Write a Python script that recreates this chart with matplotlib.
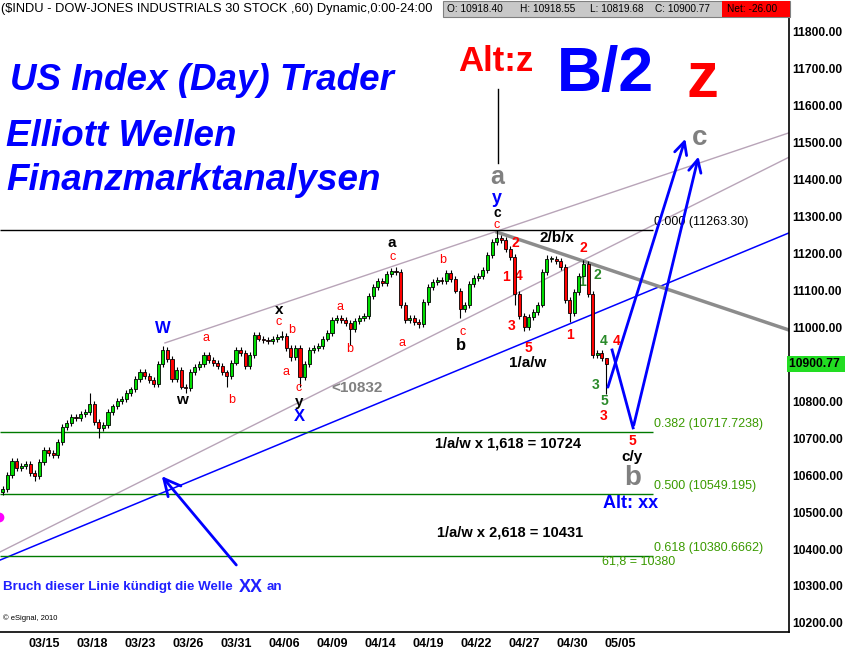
import numpy as np
import matplotlib.pyplot as plt
from matplotlib.patches import Rectangle

ARIAL = ['Liberation Sans', 'DejaVu Sans']
plt.rcParams['font.family'] = ARIAL

# $INDU 60 min, 7 bars per session, bar 0 = open of 03/15; drawn as 2-hour candles
first_bar = -18
bar_step = 2
first_open = 10555
closes = [10562, 10600, 10638, 10620, 10624, 10630, 10605, 10598, 10635, 10668,
          10660, 10655, 10690, 10730, 10742, 10758, 10755, 10765, 10772, 10792,
          10745, 10728, 10735, 10770, 10786, 10800, 10806, 10822, 10832, 10860,
          10880, 10868, 10858, 10848, 10900, 10938, 10915, 10860, 10885, 10840,
          10835, 10880, 10893, 10900, 10925, 10912, 10903, 10895, 10878, 10868,
          10905, 10940, 10932, 10895, 10925, 10980, 10970, 10966, 10962, 10968,
          10975, 10978, 10945, 10920, 10945, 10866, 10900, 10940, 10945, 10950,
          10970, 10985, 11020, 11025, 11020, 11012, 10995, 11018, 11025, 11030,
          11085, 11110, 11125, 11120, 11145, 11152, 11150, 11060, 11020, 11025,
          11015, 11008, 11070, 11110, 11122, 11128, 11126, 11148, 11130, 11100,
          11050, 11060, 11118, 11135, 11140, 11155, 11196, 11231, 11242, 11236,
          11212, 11190, 11090, 11030, 11000, 11028, 11042, 11062, 11150, 11185,
          11185, 11180, 11163, 11075, 11040, 11095, 11140, 11172, 11090, 10925,
          10930, 10918.40, 10900.77]
spike_high = {19: 10822, 35: 10950, 61: 10990, 86: 11165, 108: 11263.30,
              119: 11195, 127: 11182, 132: 10918.55}
spike_low = {7: 10585, 21: 10700, 40: 10822, 49: 10840, 63: 10908, 65: 10840,
             76: 10952, 91: 10998, 100: 11025, 112: 11060, 114: 10990, 124: 11015,
             132: 10819.68}

date_labels = ['03/15', '03/18', '03/23', '03/26', '03/31', '04/06', '04/09',
               '04/14', '04/19', '04/22', '04/27', '04/30', '05/05']
bars_between_labels = 21

price_ticks = list(range(10200, 11900, 100))
last_price = 10900.77

fib_prices = [11263.30, 10717.7238, 10549.195, 10380.6662]
fib_texts = ['0.000 (11263.30)', '0.382 (10717.7238)', '0.500 (10549.195)',
             '0.618 (10380.6662)']
fib_colors = ['black', '#3a9a00', '#3a9a00', '#3a9a00']

# trendlines (bar, price) pairs
blue_trend = ([-19.25, 325.9], [10370, 11256])
upper_chan = ([52.9, 325.9], [10958, 11527])
lower_chan = ([-19.25, 325.9], [10392, 11461])
down_line = ([198.2, 325.9], [11258, 10993])

# wave labels: text, bar, price, colour, size, weight
labels = [
    ('W', 52.1, 10998, 'blue', 12, 'bold'),
    ('a', 70.9, 10971, 'red', 9, 'normal'),
    ('w', 60.4, 10803, 'black', 11, 'bold'),
    ('b', 82.3, 10803, 'red', 9, 'normal'),
    ('x', 102.8, 11047, 'black', 11, 'bold'),
    ('c', 102.8, 11015, 'red', 9, 'normal'),
    ('b', 108.5, 10993, 'red', 9, 'normal'),
    ('a', 105.9, 10879, 'red', 9, 'normal'),
    ('c', 111.6, 10836, 'red', 9, 'normal'),
    ('y', 111.6, 10798, 'black', 11, 'bold'),
    ('X', 111.6, 10760, 'blue', 12, 'bold'),
    ('<10832', 136.9, 10836, 'gray', 11, 'bold'),
    ('a', 129.5, 11055, 'red', 9, 'normal'),
    ('b', 133.9, 10942, 'red', 9, 'normal'),
    ('a', 152.3, 11229, 'black', 11, 'bold'),
    ('c', 152.7, 11191, 'red', 9, 'normal'),
    ('a', 156.6, 10958, 'red', 9, 'normal'),
    ('b', 174.6, 11183, 'red', 9, 'normal'),
    ('c', 183.3, 10988, 'red', 9, 'normal'),
    ('b', 182.4, 10952, 'black', 12, 'bold'),
    ('c', 197.8, 11277, 'red', 9, 'normal'),
    ('c', 198.2, 11310, 'black', 10, 'bold'),
    ('y', 198.2, 11348, 'blue', 13, 'bold'),
    ('a', 198.2, 11407, 'gray', 18, 'bold'),
    ('2', 206.1, 11229, 'red', 10, 'bold'),
    ('1', 202.1, 11137, 'red', 10, 'bold'),
    ('4', 207.8, 11139, 'red', 10, 'bold'),
    ('3', 204.75, 11004, 'red', 10, 'bold'),
    ('5', 211.75, 10944, 'red', 10, 'bold'),
    ('1/a/w', 211.75, 10904, 'black', 11, 'bold'),
    ('2/b/x', 224.4, 11242, 'black', 11, 'bold'),
    ('2', 235.8, 11215, 'red', 10, 'bold'),
    ('1', 235.4, 11123, '#2a8a2a', 10, 'bold'),
    ('2', 241.9, 11142, '#2a8a2a', 10, 'bold'),
    ('1', 230.1, 10979, 'red', 10, 'bold'),
    ('4', 245.0, 10963, '#2a8a2a', 10, 'bold'),
    ('4', 250.7, 10963, 'red', 10, 'bold'),
    ('3', 241.5, 10844, '#2a8a2a', 10, 'bold'),
    ('5', 245.0, 10801, '#2a8a2a', 10, 'bold'),
    ('3', 245.0, 10760, 'red', 10, 'bold'),
    ('5', 257.25, 10692, 'red', 10, 'bold'),
    ('c/y', 257.25, 10649, 'black', 11, 'bold'),
    ('b', 257.7, 10592, 'gray', 20, 'bold'),
    ('Alt: xx', 256.8, 10522, 'blue', 13, 'bold'),
    ('c', 287.0, 11513, 'gray', 20, 'bold'),
    ('Alt:z', 197.8, 11719, 'red', 25, 'bold'),
    ('B/2', 245.4, 11686, 'blue', 45, 'bold'),
    ('z', 287.9, 11670, 'red', 46, 'bold'),
]

fig = plt.figure(figsize=(8.49, 6.5), dpi=100)
ax = fig.add_axes([0, 18 / 650, 789 / 849, 614 / 650])
ax.set_xlim(-19.25, 325.9)
ax.set_ylim(10175.3, 11837.9)

# candles
n = len(closes)
x = first_bar + bar_step * np.arange(n)
c = np.array(closes)
o = np.array([first_open] + closes[:-1])
hi = np.maximum(o, c) + 8
lo = np.minimum(o, c) - 8
for k, v in spike_high.items():
    hi[k] = v
for k, v in spike_low.items():
    lo[k] = v
up = c >= o
ax.vlines(x, lo, hi, color='black', lw=0.8, zorder=3)
body = np.maximum(np.abs(c - o), 2.5)
ax.bar(x, body, bottom=np.minimum(o, c), width=1.35,
       color=np.where(up, '#00dd00', '#ff0000'), edgecolor='black', lw=0.6, zorder=4)

# channel / trend lines
ax.plot(*upper_chan, color='#b8a4b8', lw=1, zorder=2)
ax.plot(*lower_chan, color='#b8a4b8', lw=1, zorder=2)
ax.plot(*blue_trend, color='blue', lw=1.1, zorder=2)
ax.plot(*down_line, color='#8c8c8c', lw=2.5, zorder=2)

# fib levels
fib_end = 266.4
for txt, p, col in zip(fib_texts, fib_prices, fib_colors):
    ax.hlines(p, -19.25, fib_end, color='black' if col == 'black' else '#007a00',
              lw=1, zorder=2)
    ax.text(fib_end + 0.5, p + 22, txt, color=col, fontsize=9, va='center', ha='left')
ax.text(244.1, 10365, '61,8 = 10380', color='#3a9a00', fontsize=9,
        va='center', ha='left')

# projections
proj_a = ([246.3, 280.9], [10831, 11518])
proj_b = ([248.5, 257.7, 286.6], [10939, 10728, 11470])
arrow = dict(arrowstyle='->,head_length=0.9,head_width=0.45', color='blue', lw=2)
ax.annotate('', xy=(proj_a[0][1], proj_a[1][1]), xytext=(proj_a[0][0], proj_a[1][0]),
            arrowprops=arrow, zorder=5)
ax.plot(proj_b[0][:2], proj_b[1][:2], color='blue', lw=2, zorder=5)
ax.annotate('', xy=(proj_b[0][2], proj_b[1][2]), xytext=(proj_b[0][1], proj_b[1][1]),
            arrowprops=arrow, zorder=5)
ax.annotate('', xy=(50.75, 10603), xytext=(84.9, 10351),
            arrowprops=dict(arrowstyle='->,head_length=1.2,head_width=0.6',
                            color='blue', lw=2), zorder=5)

# Alt:z pointer
ax.plot([198.6, 198.6], [11646, 11445], color='black', lw=1)
ax.plot([-19.5], [10487], 'o', color='magenta', ms=6, clip_on=True)

for t, bx, p, col, size, w in labels:
    ax.text(bx, p, t, color=col, fontsize=size, fontweight=w, ha='center', va='center')

ax.text(171.1, 10687, '1/a/w x 1,618 = 10724', fontsize=10.5, fontweight='bold',
        ha='left', va='center')
ax.text(171.9, 10446, '1/a/w x 2,618 = 10431', fontsize=10.5, fontweight='bold',
        ha='left', va='center')

big = dict(color='blue', fontsize=26.5, fontweight='bold', fontstyle='italic',
           ha='left', va='center')
ax.text(-14.9, 11670, 'US Index (Day) Trader', **big)
ax.text(-16.6, 11516, 'Elliott Wellen', **big)
ax.text(-16.6, 11397, 'Finanzmarktanalysen', **big)

ax.text(-17.9, 10297, 'Bruch dieser Linie kündigt die Welle', color='#2020ff',
        fontsize=9.6, fontweight='bold', ha='left', va='center')
ax.text(85.1, 10297, 'XX', color='#2020ff', fontsize=13, fontweight='bold',
        ha='left', va='center')
ax.text(97.5, 10297, 'an', color='#2020ff', fontsize=9.6, fontweight='bold',
        ha='left', va='center')
ax.text(-18.0, 10213, '© eSignal, 2010', fontsize=5.5, ha='left', va='center')

# axes styling
for s in ['top', 'left']:
    ax.spines[s].set_visible(False)
ax.spines['right'].set_linewidth(1.2)
ax.spines['bottom'].set_linewidth(1.2)
ax.yaxis.tick_right()
ax.set_yticks(price_ticks)
ax.set_yticklabels(['' if p == 10900 else '%.2f' % p for p in price_ticks],
                   fontsize=8.7, fontweight='bold')
ax.set_xticks(bars_between_labels * np.arange(len(date_labels)))
ax.set_xticklabels(date_labels, fontsize=9, fontweight='bold')
ax.tick_params(axis='y', length=0, pad=2)
ax.tick_params(axis='x', length=0, pad=4)
ax.text(1.0, last_price, '10900.77 ', transform=ax.get_yaxis_transform(),
        fontsize=8.7, fontweight='bold', ha='left', va='center', clip_on=False,
        bbox=dict(boxstyle='square,pad=0.15', facecolor='#22dd22', edgecolor='none'))

# header
fig.text(0.001, 1 - 9 / 650, '($INDU - DOW-JONES INDUSTRIALS 30 STOCK ,60) Dynamic,0:00-24:00',
         fontsize=9.3, ha='left', va='center')
fig.patches.append(Rectangle((443 / 849, 1 - 17 / 650), 347 / 849, 16 / 650,
                             transform=fig.transFigure, facecolor='#c8c8c8',
                             edgecolor='#808080', lw=0.8))
fig.patches.append(Rectangle((722 / 849, 1 - 17 / 650), 68 / 849, 16 / 650,
                             transform=fig.transFigure, facecolor='#ff0000',
                             edgecolor='none'))
for txt, px in [('O: 10918.40', 447), ('H: 10918.55', 520), ('L: 10819.68', 590),
                ('C: 10900.77', 655), ('Net: -26.00', 727)]:
    fig.text(px / 849, 1 - 9 / 650, txt, fontsize=7.3, ha='left', va='center')

fig.savefig('out.png', dpi=100)
